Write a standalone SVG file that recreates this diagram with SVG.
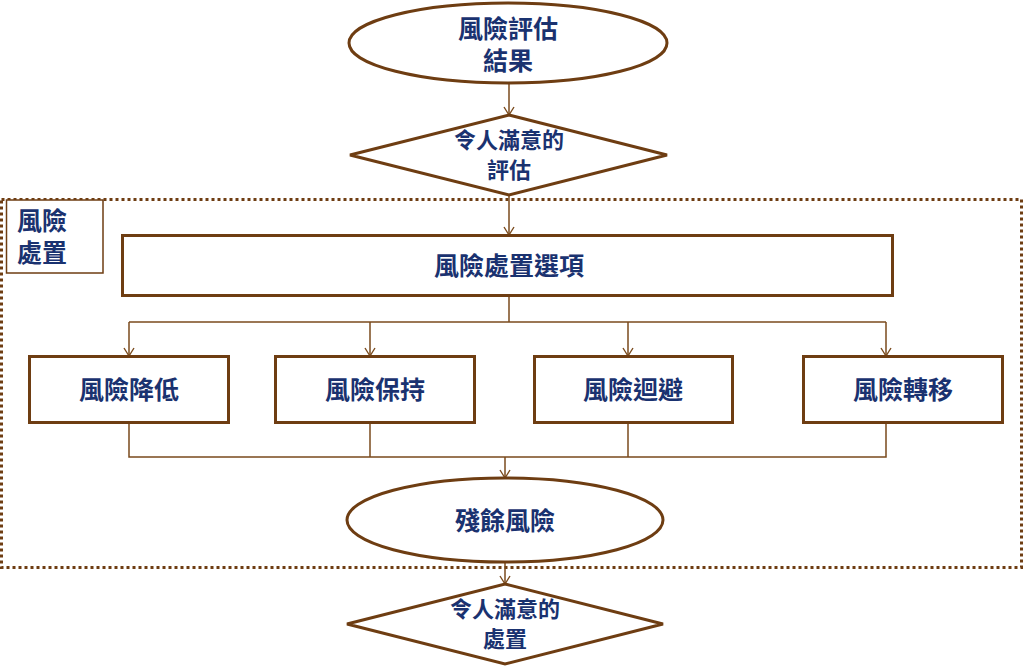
<svg xmlns="http://www.w3.org/2000/svg" width="1024" height="666" viewBox="0 0 1024 666">
<defs>
<marker id="arr" markerWidth="12" markerHeight="12" refX="10" refY="6" orient="auto" markerUnits="userSpaceOnUse" viewBox="0 0 12 12">
<path d="M2,1 L10,6 L2,11" fill="none" stroke="#7a4a1c" stroke-width="1.4"/>
</marker>
</defs>
<style>
.t{font-family:"Noto Sans CJK TC","Noto Sans CJK SC",sans-serif;font-weight:bold;fill:#1a3270;text-anchor:middle}
.s{fill:#fff;stroke:#6e3d12;stroke-width:3}
.c{fill:none;stroke:#7a4a1c;stroke-width:1.5}
</style>
<rect width="1024" height="666" fill="#fff"/>
<g id="region">
<rect x="1.5" y="199.5" width="1020" height="368" fill="none" stroke="#6e3d12" stroke-width="3" stroke-dasharray="3,3"/>
</g>
<g id="connectors">
<line class="c" x1="509" y1="84" x2="509" y2="115" marker-end="url(#arr)"/>
<line class="c" x1="509" y1="195" x2="509" y2="235" marker-end="url(#arr)"/>
<polyline class="c" points="509,296 509,322"/>
<polyline class="c" points="129,322 886,322"/>
<line class="c" x1="129" y1="322" x2="129" y2="356" marker-end="url(#arr)"/>
<line class="c" x1="370" y1="322" x2="370" y2="356" marker-end="url(#arr)"/>
<line class="c" x1="628" y1="322" x2="628" y2="356" marker-end="url(#arr)"/>
<line class="c" x1="886" y1="322" x2="886" y2="356" marker-end="url(#arr)"/>
<polyline class="c" points="129,423 129,457 886,457 886,423"/>
<line class="c" x1="370" y1="423" x2="370" y2="457"/>
<line class="c" x1="628" y1="423" x2="628" y2="457"/>
<line class="c" x1="505" y1="457" x2="505" y2="478" marker-end="url(#arr)"/>
<line class="c" x1="505" y1="562" x2="505" y2="584" marker-end="url(#arr)"/>
</g>
<g id="n1">
<ellipse class="s" cx="508" cy="43" rx="159" ry="40" stroke-width="2.5"/>
<text class="t" x="508" y="38" font-size="25">風險評估</text>
<text class="t" x="508" y="70" font-size="25">結果</text>
</g>
<g id="n2">
<polygon class="s" points="509,115 667,155 509,195 350,155" stroke-width="2.5"/>
<text class="t" x="509" y="148" font-size="22">令人滿意的</text>
<text class="t" x="509" y="178" font-size="22">評估</text>
</g>
<g id="label">
<rect x="6.5" y="200" width="96.5" height="73" fill="#fff" stroke="#6e3d12" stroke-width="1.5"/>
<text class="t" x="42" y="230" font-size="25">風險</text>
<text class="t" x="42" y="262" font-size="25">處置</text>
</g>
<g id="n3">
<rect class="s" x="122.5" y="235.5" width="770" height="60"/>
<text class="t" x="509" y="275" font-size="25">風險處置選項</text>
</g>
<g id="n4">
<rect class="s" x="29.5" y="356.5" width="199" height="66"/>
<text class="t" x="129" y="399" font-size="25">風險降低</text>
</g>
<g id="n5">
<rect class="s" x="275.5" y="356.5" width="199" height="66"/>
<text class="t" x="375" y="399" font-size="25">風險保持</text>
</g>
<g id="n6">
<rect class="s" x="534.5" y="356.5" width="198" height="66"/>
<text class="t" x="633" y="399" font-size="25">風險迴避</text>
</g>
<g id="n7">
<rect class="s" x="803.5" y="356.5" width="199" height="66"/>
<text class="t" x="903" y="399" font-size="25">風險轉移</text>
</g>
<g id="n8">
<ellipse class="s" cx="505" cy="520" rx="158" ry="42" stroke-width="2.5"/>
<text class="t" x="505" y="530" font-size="25">殘餘風險</text>
</g>
<g id="n9">
<polygon class="s" points="505,584 663,624 505,664 347,624" stroke-width="2.5"/>
<text class="t" x="505" y="617" font-size="22">令人滿意的</text>
<text class="t" x="505" y="647" font-size="22">處置</text>
</g>
</svg>
